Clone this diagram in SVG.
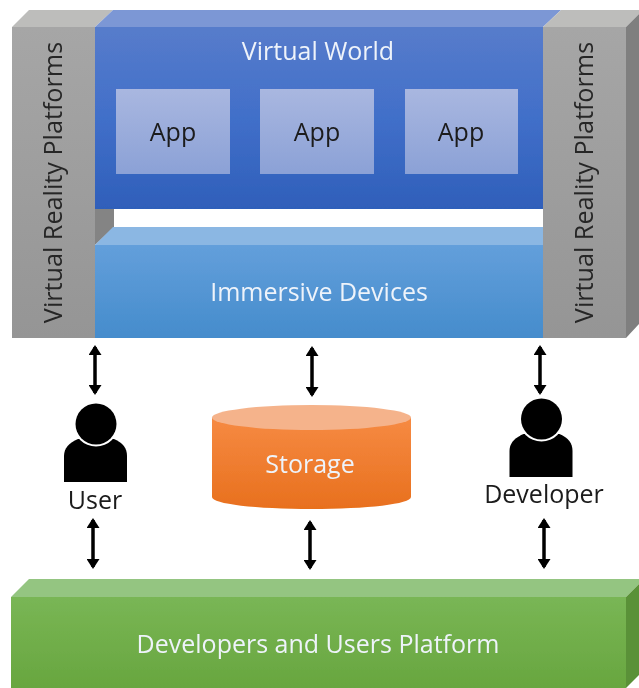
<svg xmlns="http://www.w3.org/2000/svg" width="639" height="688" viewBox="0 0 639 688">
<style>
text{font-family:"Open Sans","Noto Sans","Liberation Sans",sans-serif;text-anchor:middle}
.w{fill:#eef3fa;font-size:25px}
.k{fill:#1a1a1a;font-size:25px}
.v{fill:#262626;font-size:25.200px}
.c{fill:none;stroke:#000;stroke-width:3.500;marker-start:url(#ah);marker-end:url(#ah)}
</style>
<defs>
<filter id="soft" filterUnits="userSpaceOnUse" x="-5" y="-5" width="649" height="698"><feGaussianBlur stdDeviation="0.5"/></filter>
<marker id="ah" viewBox="0 0 10 13" refX="8" refY="6.500" markerWidth="10" markerHeight="13" markerUnits="userSpaceOnUse" orient="auto-start-reverse"><path d="M0 0L10 6.500L0 13Z" fill="#000"/></marker>
<linearGradient id="gGray" x1="0" y1="0" x2="0" y2="1"><stop offset="0" stop-color="#a6a6a6"/><stop offset="1" stop-color="#959595"/></linearGradient>
<linearGradient id="gBlue" x1="0" y1="0" x2="0" y2="1"><stop offset="0" stop-color="#577ccb"/><stop offset="0.5" stop-color="#416fc9"/><stop offset="1" stop-color="#2f5fba"/></linearGradient>
<linearGradient id="gApp" x1="0" y1="0" x2="0" y2="1"><stop offset="0" stop-color="#a9b7e0"/><stop offset="1" stop-color="#8ba1d6"/></linearGradient>
<linearGradient id="gSky" x1="0" y1="0" x2="0" y2="1"><stop offset="0" stop-color="#639fdb"/><stop offset="1" stop-color="#458ccc"/></linearGradient>
<linearGradient id="gOrange" x1="0" y1="0" x2="0" y2="1"><stop offset="0" stop-color="#f68a42"/><stop offset="1" stop-color="#e8701e"/></linearGradient>
<linearGradient id="gGreen" x1="0" y1="0" x2="0" y2="1"><stop offset="0" stop-color="#79b655"/><stop offset="1" stop-color="#68a63f"/></linearGradient>
<g id="person">
<path d="M-32 58V32C-32 24-27 19-18 15H18C27 19 31 24 31 32V58Z" fill="#000"/>
<circle cx="0" cy="0" r="22.500" fill="#fff"/>
<circle cx="0" cy="0" r="20.500" fill="#000"/>
</g>
</defs>
<g filter="url(#soft)">
<g id="left-platform">
<path d="M12 27L29 10H113L95 27Z" fill="#bdbdbb"/>
<path d="M95 209H114V227L95 245Z" fill="#848484"/>
<rect x="12" y="27" width="83" height="311" fill="url(#gGray)"/>
<text class="v" transform="translate(62,182.500) rotate(-90)">Virtual Reality Platforms</text>
</g>

<g id="virtual-world">
<path d="M95 27L113 10H561L543 27Z" fill="#7c97d5"/>
<rect x="95" y="27" width="448" height="182" fill="url(#gBlue)"/>
<text class="w" x="318" y="60">Virtual World</text>
</g>
<g id="app-1"><rect x="116" y="89" width="114" height="85" fill="url(#gApp)"/><text class="k" x="173" y="141">App</text></g>
<g id="app-2"><rect x="260" y="89" width="114" height="85" fill="url(#gApp)"/><text class="k" x="317" y="141">App</text></g>
<g id="app-3"><rect x="405" y="89" width="113" height="85" fill="url(#gApp)"/><text class="k" x="461" y="141">App</text></g>

<g id="immersive-devices">
<path d="M95 245L113 227H543V245Z" fill="#8bb7e3"/>
<rect x="95" y="245" width="448" height="93" fill="url(#gSky)"/>
<text class="w" x="319" y="301">Immersive Devices</text>
</g>

<g id="right-platform">
<path d="M543 27L561 10H639V14L626 27Z" fill="#bdbdbb"/>
<path d="M626 27L639 14V324L626 338Z" fill="#7f7f7f"/>
<rect x="543" y="27" width="83" height="311" fill="url(#gGray)"/>
<text class="v" transform="translate(593,182.500) rotate(-90)">Virtual Reality Platforms</text>
</g>

<g id="user">
<use href="#person" x="96" y="424"/>
<text class="k" x="95" y="509">User</text>
</g>

<g id="storage">
<path d="M212 418V497C212 504 256 509 311.500 509S411 504 411 497V418Z" fill="url(#gOrange)"/>
<ellipse cx="311.500" cy="417.500" rx="99.500" ry="12.500" fill="#f5b38b"/>
<text class="w" x="310" y="473">Storage</text>
</g>

<g id="developer">
<use href="#person" x="541.500" y="419"/>
<text class="k" x="544" y="503">Developer</text>
</g>

<g id="platform">
<path d="M11 597L29 579H639V584L626 597Z" fill="#94c581"/>
<path d="M626 597L639 584V675L626 688Z" fill="#5a9138"/>
<rect x="11" y="597" width="615" height="91" fill="url(#gGreen)"/>
<text class="w" x="318" y="653">Developers and Users Platform</text>
</g>

<g id="connectors">
<line class="c" x1="95" y1="347" x2="95" y2="393"/>
<line class="c" x1="312" y1="348" x2="312" y2="395"/>
<line class="c" x1="540" y1="347" x2="540" y2="393"/>
<line class="c" x1="93" y1="520" x2="93" y2="567"/>
<line class="c" x1="310" y1="522" x2="310" y2="568"/>
<line class="c" x1="544" y1="520" x2="544" y2="567"/>
</g>
</g>
</svg>
